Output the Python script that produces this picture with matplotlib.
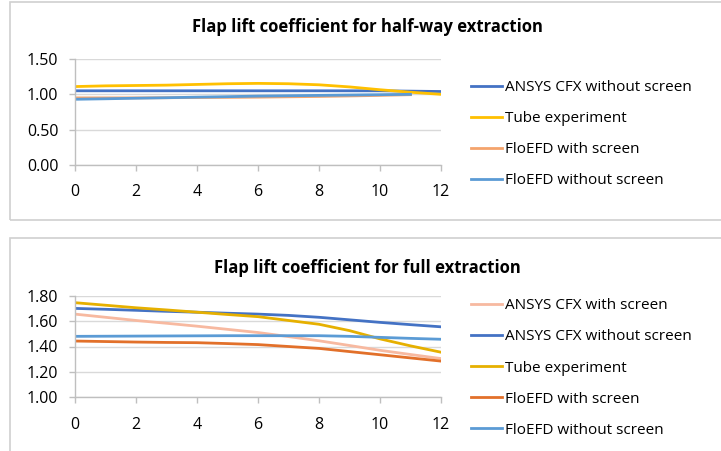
import matplotlib
matplotlib.use("Agg")
import matplotlib.pyplot as plt
from matplotlib.patches import Rectangle

# ---- data ----
x_full = [0, 1, 2, 3, 4, 5, 6, 7, 8, 9, 10, 11, 12]
x_short = [0, 1, 2, 3, 4, 5, 6, 7, 8, 9, 10, 11]

# half-way extraction
half_ansys_wo = [1.05, 1.05, 1.05, 1.05, 1.05, 1.05, 1.05, 1.05, 1.05, 1.05, 1.05, 1.045, 1.04]
half_tube = [1.11, 1.12, 1.125, 1.13, 1.14, 1.15, 1.155, 1.15, 1.135, 1.105, 1.065, 1.03, 1.00]
half_floefd_w = [0.95, 0.95, 0.95, 0.952, 0.955, 0.957, 0.96, 0.965, 0.97, 0.977, 0.985, 0.995]
half_floefd_wo = [0.93, 0.937, 0.945, 0.952, 0.96, 0.967, 0.975, 0.98, 0.985, 0.99, 0.995, 1.00]

# full extraction
full_ansys_w = [1.655, 1.63, 1.605, 1.583, 1.56, 1.535, 1.51, 1.478, 1.445, 1.408, 1.37, 1.337, 1.305]
full_ansys_wo = [1.70, 1.693, 1.685, 1.677, 1.67, 1.662, 1.655, 1.645, 1.63, 1.61, 1.59, 1.572, 1.555]
full_tube = [1.745, 1.725, 1.705, 1.688, 1.67, 1.652, 1.635, 1.605, 1.575, 1.525, 1.46, 1.405, 1.355]
full_floefd_w = [1.443, 1.439, 1.435, 1.432, 1.43, 1.423, 1.415, 1.40, 1.385, 1.36, 1.335, 1.31, 1.285]
full_floefd_wo = [1.48, 1.481, 1.482, 1.483, 1.484, 1.485, 1.485, 1.485, 1.485, 1.48, 1.472, 1.464, 1.457]

half_labels = ["ANSYS CFX without screen", "Tube experiment",
               "FloEFD with screen", "FloEFD without screen"]
full_labels = ["ANSYS CFX with screen", "ANSYS CFX without screen",
               "Tube experiment", "FloEFD with screen", "FloEFD without screen"]

half_yticks = [0.0, 0.5, 1.0, 1.5]
full_yticks = [1.0, 1.2, 1.4, 1.6, 1.8]
xticks = [0, 2, 4, 6, 8, 10, 12]

plt.rcParams['font.family'] = ['Open Sans', 'DejaVu Sans']

W, H = 721, 451
fig = plt.figure(figsize=(W / 100, H / 100), dpi=100)
fig.patch.set_facecolor('white')

# chart frames
for (x0, y0, x1, y1) in [(10, 2, 730, 220), (10, 238, 730, 470)]:
    fig.patches.append(Rectangle((x0 / W, 1 - y1 / H), (x1 - x0) / W, (y1 - y0) / H,
                                 transform=fig.transFigure, fill=False,
                                 edgecolor='#d0d0d0', linewidth=1.2))

def px_axes(x0, y0, x1, y1):
    return fig.add_axes([x0 / W, 1 - y1 / H, (x1 - x0) / W, (y1 - y0) / H])

def style(ax, yticks, fmt):
    ax.set_xlim(0, 12)
    ax.set_ylim(yticks[0], yticks[-1])
    ax.set_yticks(yticks)
    ax.set_yticklabels([fmt.format(v) for v in yticks])
    ax.set_xticks(xticks)
    ax.grid(axis='y', color='#d9d9d9', linewidth=1.0)
    ax.set_axisbelow(True)
    for s in ['top', 'right']:
        ax.spines[s].set_visible(False)
    for s in ['left', 'bottom']:
        ax.spines[s].set_color('#bfbfbf')
        ax.spines[s].set_linewidth(1.0)
    ax.tick_params(axis='both', colors='#bfbfbf', labelcolor='black',
                   labelsize=11.5, length=4, width=1.0, direction='out')
    ax.tick_params(axis='x', pad=10)
    ax.tick_params(axis='y', pad=8)

lw = 2.0
leg_kw = dict(bbox_transform=fig.transFigure, frameon=False, fontsize=11,
              handlelength=2.0, handletextpad=0.2, labelspacing=1.05,
              borderaxespad=0, loc='center left')

# top chart
ax1 = px_axes(75, 59, 441, 165)
ax1.plot(x_full, half_ansys_wo, color='#4472C4', lw=lw, label=half_labels[0])
ax1.plot(x_full, half_tube, color='#FFC000', lw=lw, label=half_labels[1])
ax1.plot(x_short, half_floefd_w, color='#F4A46C', lw=lw, label=half_labels[2])
ax1.plot(x_short, half_floefd_wo, color='#5B9BD5', lw=lw, label=half_labels[3])
style(ax1, half_yticks, "{:.2f}")
fig.text(367 / W, 1 - 27 / H, "Flap lift coefficient for half-way extraction",
         ha='center', va='center', fontsize=12, fontweight='bold')
ax1.legend(bbox_to_anchor=(465 / W, 1 - 134 / H), **leg_kw)

# bottom chart
ax2 = px_axes(75, 295.7, 441, 397.3)
ax2.plot(x_full, full_ansys_w, color='#F7B9A0', lw=lw, label=full_labels[0])
ax2.plot(x_full, full_ansys_wo, color='#4472C4', lw=lw, label=full_labels[1])
ax2.plot(x_full, full_tube, color='#E6B000', lw=lw, label=full_labels[2])
ax2.plot(x_full, full_floefd_w, color='#E2702A', lw=lw, label=full_labels[3])
ax2.plot(x_full, full_floefd_wo, color='#5B9BD5', lw=lw, label=full_labels[4])
style(ax2, full_yticks, "{:.2f}")
fig.text(367 / W, 1 - 268 / H, "Flap lift coefficient for full extraction",
         ha='center', va='center', fontsize=12, fontweight='bold')
ax2.legend(bbox_to_anchor=(465 / W, 1 - 368 / H), **leg_kw)

fig.savefig("out.png", dpi=100, facecolor='white')
